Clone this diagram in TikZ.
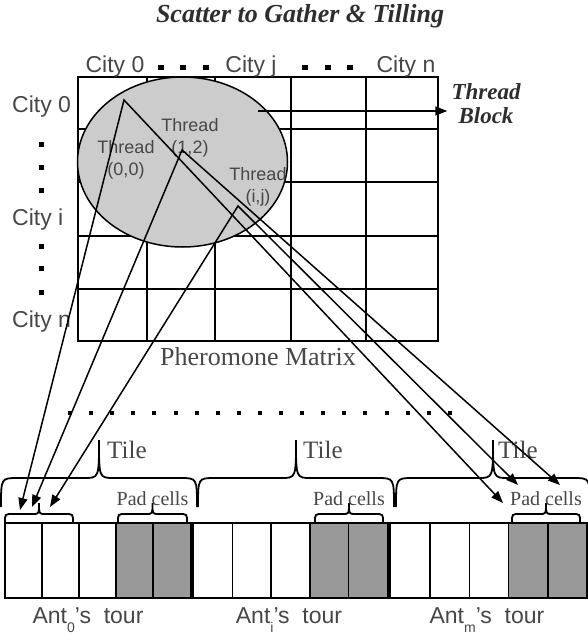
\documentclass[tikz,border=0pt]{standalone}
\usepackage{fontspec}
\setmainfont{Liberation Serif}
\setsansfont{Liberation Sans}
\usetikzlibrary{shapes.geometric,arrows.meta}

% curly brace opening downwards: left x, right x, end y, bar y, tip y, end run, tip run
\newcommand{\upbrace}[7]{%
  \pgfmathsetmacro{\bmid}{(#1+#2)/2}
  \draw[brace] (#1,#3) .. controls (#1,#4) .. (#1+#6,#4) -- (\bmid-#7,#4)
    .. controls (\bmid,#4) .. (\bmid,#5) .. controls (\bmid,#4) .. (\bmid+#7,#4)
    -- (#2-#6,#4) .. controls (#2,#4) .. (#2,#3);
}
\newcommand{\lowsub}[1]{\raisebox{-0.4em}{\fontsize{14}{14}\selectfont #1}}

\begin{document}
\begin{tikzpicture}[x=1pt, y=-1pt, every node/.style={inner sep=0pt}, >={Triangle[length=12pt,width=9pt]}]
  \colorlet{labcol}{black!72} \colorlet{headcol}{black!82} \colorlet{blkcol}{black!20} \colorlet{padcol}{black!40}
  \tikzstyle{matline}=[line width=1.8pt]
  \tikzstyle{cell}=[line width=1.6pt]
  \tikzstyle{brace}=[line width=1.8pt]
  \tikzstyle{edge}=[<->, line width=1.5pt]
  \tikzstyle{city}=[font=\sffamily\fontsize{23}{23}\selectfont, text=labcol]
  \tikzstyle{thr}=[font=\sffamily\fontsize{18}{22}\selectfont, text=labcol, align=center]
  \tikzstyle{serif}=[font=\rmfamily\fontsize{26}{26}\selectfont, text=labcol]
  \tikzstyle{head}=[font=\rmfamily\bfseries\itshape\fontsize{23}{24}\selectfont, text=headcol, align=center]
  \useasboundingbox (0,0) rectangle (587,635);

  \node[head, font=\rmfamily\bfseries\itshape\fontsize{26}{26}\selectfont, anchor=base] (title) at (300,22.6) {Scatter to Gather \& Tilling};

  % pheromone matrix
  \draw[matline] (78,77) rectangle (438,341);
  \foreach \x in {147,215,291,366} \draw[matline] (\x,77) -- (\x,341);
  \foreach \y in {129,182,236,289} \draw[matline] (78,\y) -- (438,\y);
  \node[serif, anchor=base] (pher) at (258,365) {Pheromone Matrix};

  \node[city, anchor=base] (col0) at (115,72) {City 0};
  \node[city, anchor=base] (colj) at (251,72) {City j};
  \node[city, anchor=base] (coln) at (406,72) {City n};
  \node[city, anchor=base west] (row0) at (12,112) {City 0};
  \node[city, anchor=base west] (rowi) at (12,225) {City i};
  \node[city, anchor=base west] (rown) at (12,327) {City n};
  \foreach \x in {161,183,206,305,328,350} \fill (\x-2.7,64.5) rectangle +(5.4,5);
  \foreach \y in {144,167,190,246,268,292} \fill (38.5,\y-2.5) rectangle +(5,5);

  % thread block
  \node[ellipse, draw, fill=blkcol, line width=1.5pt, minimum width=210, minimum height=170] (block) at (182.5,162) {};
  \node[thr] (lbl0) at (126,159.5) {Thread\\(0,0)};
  \node[thr] (lbl1) at (190,138) {Thread\\(1,2)};
  \node[thr] (lbl2) at (258,187) {Thread\\(i,j)};
  \node[head, inner sep=4pt] (blocklabel) at (486,104) {Thread\\Block};
  \coordinate (bstart) at (258,111);
  \draw[->, line width=1.5pt] (bstart) -- (bstart -| blocklabel.west);

  % tiles of the tours
  \foreach \i/\dx in {0/70,1/91.1,2/112.2,3/133.3,4/154.4,5/175.5,6/196.6,7/217.7,8/238.8,9/259.9,10/281,11/302.1,12/323.2,13/344.3,14/365.4,15/386.5,16/407.6,17/428.7,18/449.8}
    \fill (\dx-2,411) rectangle +(4,4);
  \foreach \s/\w in {5/37, 194/38.6, 391/39.2} {
    \fill[padcol] (\s+3*\w,523) rectangle (\s+5*\w,598);
    \foreach \k in {1,...,4} \draw[cell] (\s+\k*\w,523) -- (\s+\k*\w,598);
  }
  \draw[cell] (5,523) rectangle (587,598);
  \fill (190,523) rectangle (194,598);
  \fill (387,523) rectangle (391,598);

  \upbrace{1}{197}{507}{478}{440}{17}{15}
  \upbrace{198}{394}{507}{478}{440}{17}{15}
  \upbrace{396}{590}{507}{478}{440}{17}{15}
  \foreach \t/\x in {0/107, 1/303, 2/498}
    \node[serif, font=\rmfamily\fontsize{25}{25}\selectfont, anchor=base west] (tile\t) at (\x,458) {Tile};
  \upbrace{5}{73}{522}{514}{503}{8}{6}
  \foreach \t/\a/\b in {0/118/187, 1/315/383, 2/512/580} {
    \upbrace{\a}{\b}{522}{514}{503}{8}{6}
    \node[serif, font=\rmfamily\fontsize{20}{20}\selectfont, anchor=base] (pad\t) at ({(\a+\b)/2},505) {Pad cells};
  }

  \node[city, anchor=base] (ant0) at (88,623) {Ant\lowsub{0}'s\ \ tour};
  \node[city, anchor=base] (anti) at (289,623) {Ant\lowsub{i}'s\ \ tour};
  \node[city, anchor=base] (antm) at (487,623) {Ant\lowsub{m}'s\ \ tour};

  % threads scattering to the tours
  \coordinate (thr0) at (124,100); \coordinate (thr1) at (182,150); \coordinate (thr2) at (238,206);
  \coordinate (in0) at (20,510);   \coordinate (in1) at (32,507);   \coordinate (in2) at (50,507);
  \coordinate (out0) at (503,503); \coordinate (out1) at (560,485); \coordinate (out2) at (518,485);
  \foreach \i in {0,1,2}
    \draw[edge] (in\i) -- (thr\i) -- (out\i);
\end{tikzpicture}
\end{document}
